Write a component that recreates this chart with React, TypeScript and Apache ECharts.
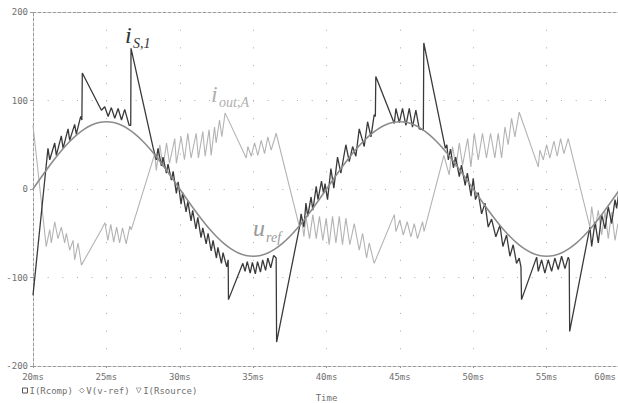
import { useEffect, useRef } from "react";
import * as echarts from "echarts";

const xTicksMs = [20, 25, 30, 35, 40, 45, 50, 55, 60];
const yTicks = [-200, -100, 0, 100, 200];

// I(Rcomp)  -> i_S,1  [time ms, value]
const rcompData: [number, number][] = [
  [20.0, -120], [21.02, 46], [21.14, 33], [21.48, 52], [21.59, 38], [21.93, 60], [22.05, 46], [22.39, 68], [22.5, 55], [22.84, 73], [22.95, 62], [23.25, 82], [23.33, 78], [23.36, 131],
  [24.66, 89], [24.89, 93], [25.12, 82], [25.34, 92], [25.57, 80], [25.8, 91], [26.03, 78], [26.25, 90], [26.55, 72], [26.66, 72], [26.68, 159],
  [28.18, 47], [28.4, 33], [28.52, 46], [28.75, 26], [28.86, 36], [29.09, 18], [29.2, 28], [29.43, 10], [29.55, 20], [29.77, -5], [29.89, 8],
  [30.09, -17], [30.2, -4], [30.43, -26], [30.55, -14], [30.77, -36], [30.88, -24], [31.1, -45], [31.23, -32], [31.45, -55], [31.57, -44], [31.8, -62], [31.93, -50], [32.14, -70], [32.27, -58], [32.5, -78], [32.6, -66], [32.84, -84], [32.95, -72], [33.2, -88], [33.3, -80], [33.32, -125],
  [34.3, -84], [34.45, -93], [34.6, -82], [34.8, -95], [34.95, -83], [35.15, -96], [35.3, -82], [35.5, -94], [35.65, -80], [35.85, -92], [36.0, -78], [36.2, -89], [36.4, -75], [36.57, -78], [36.6, -173],
  [38.16, -43], [38.27, -28], [38.46, -43], [38.6, -16], [38.72, -31], [38.95, -9], [39.07, -24], [39.3, 3], [39.42, -12], [39.66, 9], [39.8, -5], [39.9, 6],
  [40.07, -12], [40.3, 23], [40.5, 1], [40.75, 36], [40.98, 18], [41.32, 50], [41.55, 31], [41.78, 48], [42.0, 37], [42.23, 68], [42.57, 48], [42.8, 76], [43.03, 59], [43.25, 84], [43.33, 82], [43.36, 127],
  [44.62, 74], [44.73, 91], [44.96, 75], [45.18, 91], [45.41, 72], [45.64, 91], [45.86, 70], [46.09, 89], [46.32, 68], [46.55, 67], [46.6, 66], [46.63, 165],
  [48.1, 46], [48.2, 50], [48.3, 33], [48.45, 45], [48.65, 24], [48.8, 36], [49.05, 14], [49.2, 27], [49.45, 4], [49.6, 18], [49.85, -8], [50.0, 12], [50.15, -12], [50.34, -4], [50.57, -28], [50.8, -16], [51.02, -43], [51.25, -34], [51.54, -54], [51.82, -41], [52.02, -65], [52.27, -52], [52.5, -76], [52.72, -63], [52.95, -84], [53.13, -78], [53.25, -88], [53.29, -125],
  [54.32, -77], [54.43, -93], [54.66, -80], [54.88, -95], [55.11, -80], [55.34, -93], [55.56, -78], [55.79, -91], [56.02, -76], [56.25, -90], [56.47, -77], [56.54, -80], [56.57, -161],
  [57.95, -43], [58.07, -65], [58.3, -37], [58.52, -61], [58.75, -29], [58.98, -45], [59.2, -20], [59.43, -39], [59.66, -12], [59.77, -22], [60.0, 6],
];

// V(v-ref) -> u_ref
const vrefData: [number, number][] = [
  [20, 0], [20.5, 11.9], [21, 23.5], [21.5, 34.5], [22, 44.7], [22.5, 53.7], [23, 61.5], [23.5, 67.7], [24, 72.3], [24.5, 75.1], [25, 76], [25.5, 75.1], [26, 72.3], [26.5, 67.7], [27, 61.5], [27.5, 53.7], [28, 44.7], [28.5, 34.5], [29, 23.5], [29.5, 11.9],
  [30, 0], [30.5, -11.9], [31, -23.5], [31.5, -34.5], [32, -44.7], [32.5, -53.7], [33, -61.5], [33.5, -67.7], [34, -72.3], [34.5, -75.1], [35, -76], [35.5, -75.1], [36, -72.3], [36.5, -67.7], [37, -61.5], [37.5, -53.7], [38, -44.7], [38.5, -34.5], [39, -23.5], [39.5, -11.9],
  [40, 0], [40.5, 11.9], [41, 23.5], [41.5, 34.5], [42, 44.7], [42.5, 53.7], [43, 61.5], [43.5, 67.7], [44, 72.3], [44.5, 75.1], [45, 76], [45.5, 75.1], [46, 72.3], [46.5, 67.7], [47, 61.5], [47.5, 53.7], [48, 44.7], [48.5, 34.5], [49, 23.5], [49.5, 11.9],
  [50, 0], [50.5, -11.9], [51, -23.5], [51.5, -34.5], [52, -44.7], [52.5, -53.7], [53, -61.5], [53.5, -67.7], [54, -72.3], [54.5, -75.1], [55, -76], [55.5, -75.1], [56, -72.3], [56.5, -67.7], [57, -61.5], [57.5, -53.7], [58, -44.7], [58.5, -34.5], [59, -23.5], [59.5, -11.9],
  [60, 0],
];

// I(Rsource) -> i_out,A
const rsourceData: [number, number][] = [
  [20.0, 72], [20.9, -65], [21.14, -46], [21.25, -61], [21.48, -37], [21.7, -56], [21.93, -43], [22.16, -61], [22.27, -50], [22.5, -69], [22.73, -58], [22.84, -80], [23.07, -61], [23.3, -86],
  [24.66, -46], [24.9, -38], [25.1, -58], [25.3, -40], [25.5, -60], [25.7, -43], [25.9, -61], [26.1, -44], [26.35, -62], [26.6, -42], [26.7, -46],
  [28.3, 40], [28.4, 21], [28.64, 50], [28.86, 25], [29.1, 52], [29.3, 29], [29.66, 57], [29.77, 29], [30.09, 59], [30.32, 33], [30.55, 63], [30.77, 35], [31.12, 63], [31.27, 35], [31.57, 65], [31.73, 37], [32.0, 67], [32.14, 38], [32.37, 70], [32.48, 52], [32.71, 78], [32.87, 59], [33.09, 86],
  [34.53, 35], [34.64, 48], [34.87, 37], [35.1, 52], [35.32, 38], [35.55, 55], [35.78, 40], [36.0, 59], [36.23, 44], [36.57, 63],
  [38.16, -43], [38.27, -29], [38.46, -54], [38.6, -31], [38.84, -56], [39.07, -29], [39.3, -56], [39.52, -31], [39.75, -58], [39.98, -33], [40.18, -63], [40.41, -31], [40.64, -61], [40.87, -31], [41.09, -63], [41.32, -33], [41.59, -63], [41.89, -39], [42.23, -69], [42.46, -50], [42.73, -78], [42.91, -61], [43.25, -84],
  [44.62, -29], [44.73, -48], [45.0, -35], [45.23, -52], [45.5, -37], [45.75, -54], [45.98, -39], [46.2, -56], [46.55, -37], [46.65, -48],
  [48.0, 38], [48.36, 16], [48.59, 48], [48.82, 25], [49.05, 52], [49.27, 27], [49.62, 57], [49.84, 25], [50.07, 63], [50.34, 33], [50.63, 63], [50.9, 35], [51.18, 63], [51.47, 35], [51.7, 63], [51.93, 35], [52.16, 70], [52.38, 50], [52.61, 80], [52.84, 59], [53.13, 87],
  [54.43, 25], [54.54, 44], [54.77, 33], [55.0, 50], [55.22, 35], [55.5, 54], [55.72, 37], [55.95, 57], [56.18, 40], [56.47, 57],
  [57.95, -43], [58.07, -20], [58.3, -46], [58.52, -24], [58.75, -52], [58.98, -26], [59.2, -56], [59.43, -26], [59.66, -58], [59.86, -39], [60.0, -52],
];

const seriesNames = ["I(Rcomp)", "V(v-ref)", "I(Rsource)"];
const seriesColors = ["#3a3a3a", "#8c8c8c", "#b3b3b3"];

const MONO = "'DejaVu Sans Mono', 'Liberation Mono', monospace";
const SERIF = "'Liberation Serif', 'DejaVu Serif', serif";

export default function App() {
  const ref = useRef<HTMLDivElement>(null);
  useEffect(() => {
    const chart = echarts.init(ref.current!, null, { renderer: "svg" });
    const axisDash = { color: "#9a9a9a", width: 1, type: [3, 2] as number[] };
    const lastTick = xTicksMs[xTicksMs.length - 1];
    chart.setOption({
      animation: false,
      backgroundColor: "#ffffff",
      grid: { left: 33, right: -2, top: 12, bottom: 37, containLabel: false, outerBoundsMode: "none" },
      xAxis: [
        {
          type: "value",
          min: xTicksMs[0],
          max: lastTick,
          interval: 5,
          position: "bottom",
          axisLine: { show: true, onZero: false, lineStyle: axisDash },
          axisTick: { show: true, length: 2, lineStyle: { color: "#9a9a9a" } },
          axisLabel: {
            formatter: (v: number) => (v === lastTick ? `{last|${v}ms}` : `${v}ms`),
            fontFamily: MONO,
            fontSize: 9,
            color: "#707070",
            margin: 6,
            alignMaxLabel: "right",
            rich: {
              last: { fontFamily: MONO, fontSize: 9, color: "#707070", padding: [0, 4, 0, 0] },
            },
          },
          splitLine: { show: true, lineStyle: { color: "#a8a8a8", width: 1, type: [1, 16.7] } },
          name: "Time",
          nameLocation: "middle",
          nameGap: 27,
          nameTextStyle: { fontFamily: MONO, fontSize: 9, color: "#707070" },
        },
        {
          type: "value",
          min: xTicksMs[0],
          max: lastTick,
          interval: 5,
          position: "top",
          axisLine: { show: true, onZero: false, lineStyle: axisDash },
          axisTick: { show: false },
          axisLabel: { show: false },
          splitLine: { show: false },
        },
      ],
      yAxis: {
        type: "value",
        min: yTicks[0],
        max: yTicks[yTicks.length - 1],
        interval: 100,
        axisLine: { show: true, onZero: false, lineStyle: axisDash },
        axisTick: { show: true, length: 3, lineStyle: { color: "#9a9a9a" } },
        axisLabel: { fontFamily: MONO, fontSize: 9, color: "#707070", margin: 5 },
        splitLine: { show: true, lineStyle: { color: "#a8a8a8", width: 1, type: [1, 13.667] } },
      },
      legend: {
        left: 17,
        top: 381,
        itemWidth: 5,
        itemHeight: 5,
        itemGap: 6,
        textStyle: { fontFamily: MONO, fontSize: 9, color: "#707070", padding: [0, 0, 0, -3] },
        data: [
          { name: seriesNames[0], icon: "rect", itemStyle: { color: "#ffffff", borderColor: "#555", borderWidth: 1 } },
          { name: seriesNames[1], icon: "diamond", itemStyle: { color: "#ffffff", borderColor: "#999", borderWidth: 1 } },
          { name: seriesNames[2], icon: "path://M0,0L10,0L5,10Z", itemStyle: { color: "#ffffff", borderColor: "#aaa", borderWidth: 1 } },
        ],
      },
      series: [
        {
          name: seriesNames[0],
          type: "line",
          data: rcompData,
          showSymbol: false,
          symbol: "none",
          lineStyle: { color: seriesColors[0], width: 1.3 },
          itemStyle: { color: seriesColors[0] },
          z: 3,
        },
        {
          name: seriesNames[1],
          type: "line",
          data: vrefData,
          smooth: 0.3,
          showSymbol: false,
          symbol: "none",
          lineStyle: { color: seriesColors[1], width: 1.6 },
          itemStyle: { color: seriesColors[1] },
          z: 4,
        },
        {
          name: seriesNames[2],
          type: "line",
          data: rsourceData,
          showSymbol: false,
          symbol: "none",
          lineStyle: { color: seriesColors[2], width: 1.1 },
          itemStyle: { color: seriesColors[2] },
          z: 2,
        },
      ],
      graphic: [
        { type: "text", x: 125, y: 47, style: { text: "i", font: `italic 24px ${SERIF}`, fill: "#333333", textVerticalAlign: "bottom" } },
        { type: "text", x: 133, y: 50, style: { text: "S,1", font: `italic 14px ${SERIF}`, fill: "#333333", textVerticalAlign: "bottom" } },
        { type: "text", x: 211, y: 106, style: { text: "i", font: `italic 24px ${SERIF}`, fill: "#b0b0b0", textVerticalAlign: "bottom" } },
        { type: "text", x: 219, y: 109, style: { text: "out,A", font: `italic 14px ${SERIF}`, fill: "#b0b0b0", textVerticalAlign: "bottom" } },
        { type: "text", x: 253, y: 240, style: { text: "u", font: `italic 24px ${SERIF}`, fill: "#999999", textVerticalAlign: "bottom" } },
        { type: "text", x: 266, y: 244, style: { text: "ref", font: `italic 14px ${SERIF}`, fill: "#999999", textVerticalAlign: "bottom" } },
      ],
    });
    return () => chart.dispose();
  }, []);
  return <div ref={ref} style={{ position: "absolute", left: 0, top: 0, width: 618, height: 403 }} />;
}
